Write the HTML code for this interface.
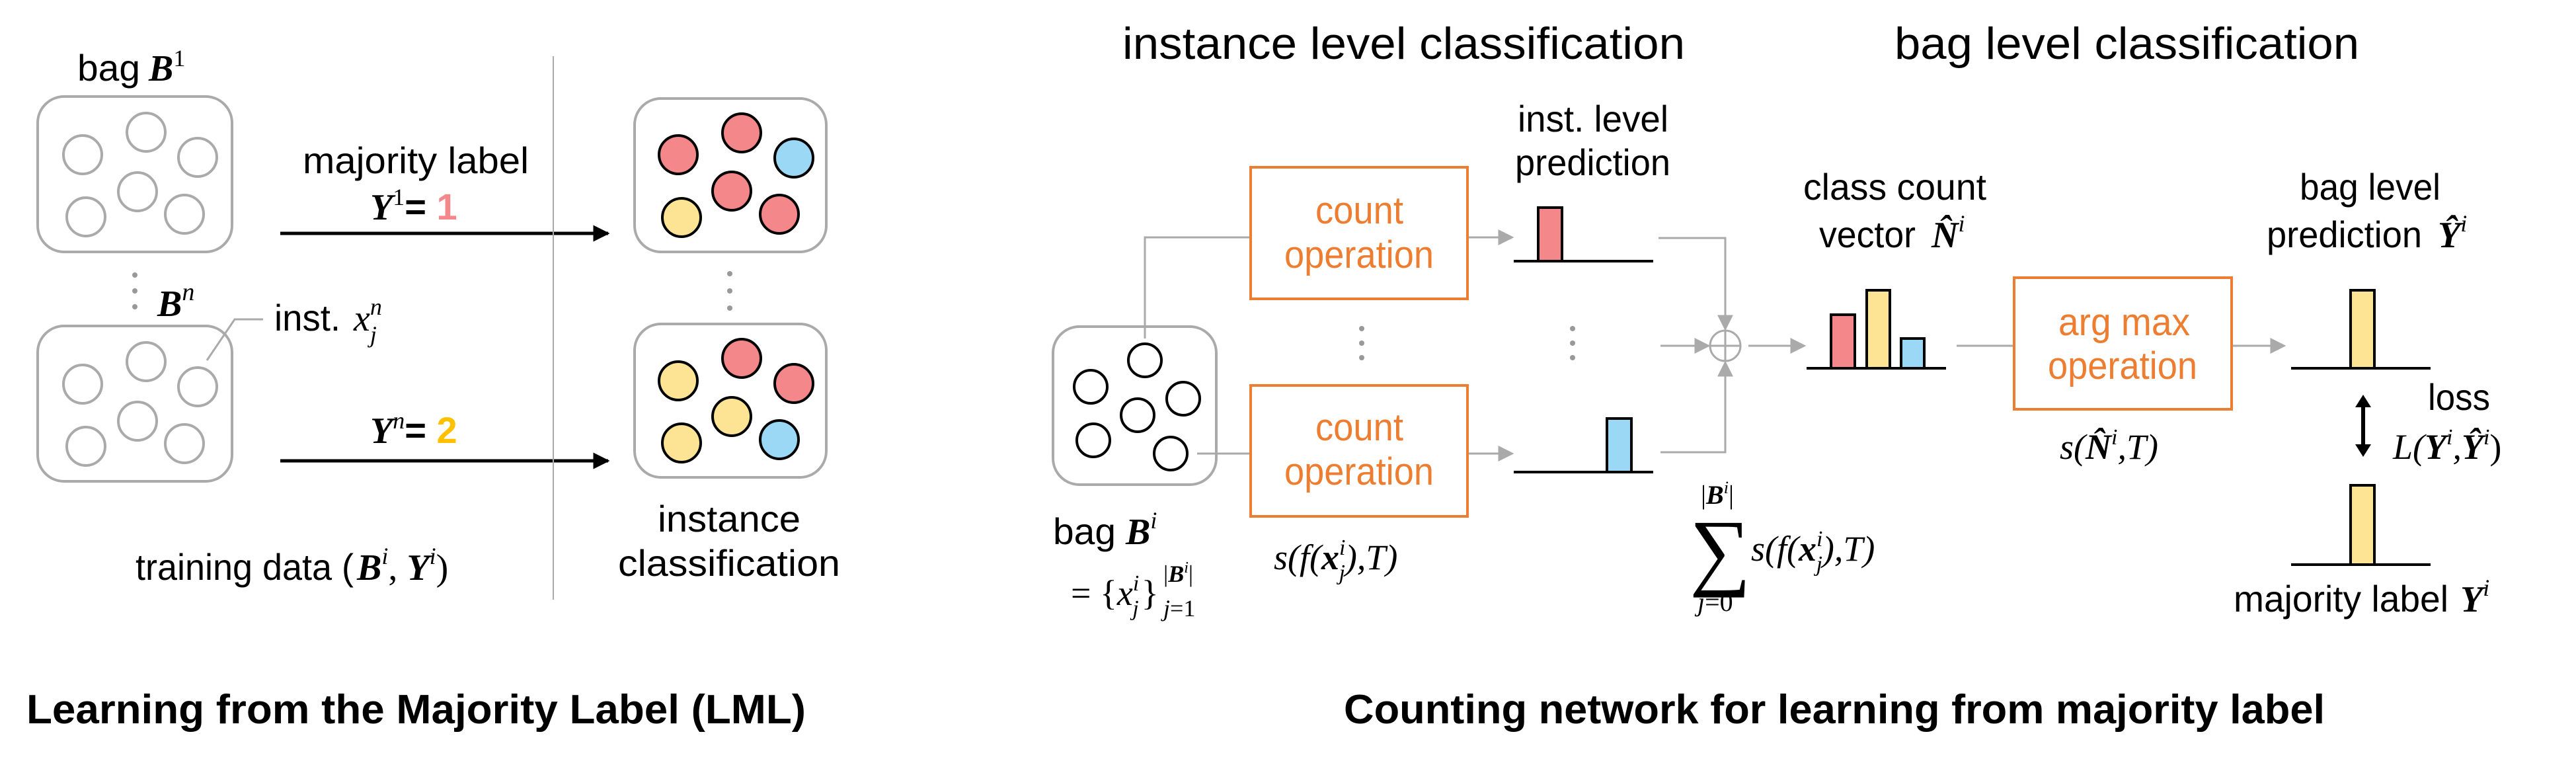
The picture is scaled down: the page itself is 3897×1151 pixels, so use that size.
<!DOCTYPE html>
<html><head><meta charset="utf-8"><style>
html,body{margin:0;padding:0;background:#fff;}
svg{display:block;}
.s{font-family:"Liberation Sans",sans-serif;}
.m{font-family:"Liberation Serif",serif;font-style:italic;}
</style></head><body>
<svg width="3897" height="1151" viewBox="0 0 3897 1151" xmlns="http://www.w3.org/2000/svg">
<defs>
<marker id="ab" viewBox="0 0 10 10" refX="9" refY="5" markerWidth="5" markerHeight="5" orient="auto" markerUnits="strokeWidth"><path d="M0,0 L10,5 L0,10z" fill="#000"/></marker>
<marker id="ag" viewBox="0 0 10 10" refX="9" refY="5" markerWidth="8" markerHeight="8" orient="auto" markerUnits="strokeWidth"><path d="M0,0 L10,5 L0,10z" fill="#aaa"/></marker>
<g id="ebag">
<rect x="0" y="0" width="294" height="235" rx="40" fill="#fff" stroke="#aaa" stroke-width="4"/>
<g fill="none" stroke="#aaa" stroke-width="4">
<circle cx="68" cy="88" r="29"/><circle cx="164" cy="54" r="29"/><circle cx="242" cy="92" r="29"/>
<circle cx="151" cy="144" r="29"/><circle cx="73" cy="182" r="29"/><circle cx="222" cy="178" r="29"/>
</g></g>
</defs>

<!-- LEFT PANEL -->
<text x="117" y="122" class="s" font-size="56" textLength="95" lengthAdjust="spacingAndGlyphs">bag</text>
<text x="225" y="122" class="m" font-size="56" font-weight="bold">B<tspan font-family="Liberation Serif" font-style="normal" font-weight="normal" font-size="36" dy="-22">1</tspan></text>
<use href="#ebag" x="57" y="146"/>
<use href="#ebag" x="57" y="493"/>
<g fill="#999"><circle cx="204" cy="416" r="4"/><circle cx="204" cy="440" r="4"/><circle cx="204" cy="464" r="4"/></g>
<text x="238" y="478" class="m" font-weight="bold" font-size="56">B<tspan font-size="38" dy="-24" font-weight="normal">n</tspan></text>
<polyline points="398,483 355,483 313,545" fill="none" stroke="#aaa" stroke-width="3"/>
<text x="415" y="500" class="s" font-size="56" textLength="100" lengthAdjust="spacingAndGlyphs">inst.</text>
<text x="535" y="500" class="m" font-size="56">x<tspan font-size="36" dy="-24">n</tspan><tspan font-size="36" dx="-18" dy="42">j</tspan></text>
<text x="458" y="262" class="s" font-size="56" textLength="342" lengthAdjust="spacingAndGlyphs">majority label</text>
<text x="560" y="332" font-size="56"><tspan class="m" font-weight="bold">Y</tspan><tspan font-family="Liberation Serif" font-size="36" dy="-22">1</tspan><tspan class="s" font-weight="bold" dy="22">= </tspan><tspan class="s" font-weight="bold" fill="#f4878a">1</tspan></text>
<line x1="424" y1="353" x2="920" y2="353" stroke="#000" stroke-width="5" marker-end="url(#ab)"/>
<text x="560" y="670" font-size="56"><tspan class="m" font-weight="bold">Y</tspan><tspan class="m" font-size="36" dy="-22">n</tspan><tspan class="s" font-weight="bold" dy="22">= </tspan><tspan class="s" font-weight="bold" fill="#ffc000">2</tspan></text>
<line x1="424" y1="697" x2="920" y2="697" stroke="#000" stroke-width="5" marker-end="url(#ab)"/>
<line x1="837" y1="85" x2="837" y2="907" stroke="#aaa" stroke-width="2"/>

<rect x="960" y="149" width="290" height="232" rx="40" fill="#fff" stroke="#aaa" stroke-width="4"/>
<g stroke="#000" stroke-width="4">
<circle cx="1026" cy="234" r="29" fill="#f4878a"/><circle cx="1122" cy="201" r="29" fill="#f4878a"/><circle cx="1201" cy="239" r="29" fill="#9ad8f5"/>
<circle cx="1107" cy="289" r="29" fill="#f4878a"/><circle cx="1031" cy="329" r="29" fill="#fde394"/><circle cx="1179" cy="324" r="29" fill="#f4878a"/>
</g>
<g fill="#999"><circle cx="1104" cy="414" r="4"/><circle cx="1104" cy="440" r="4"/><circle cx="1104" cy="466" r="4"/></g>
<rect x="960" y="490" width="290" height="232" rx="40" fill="#fff" stroke="#aaa" stroke-width="4"/>
<g stroke="#000" stroke-width="4">
<circle cx="1026" cy="576" r="29" fill="#fde394"/><circle cx="1122" cy="542" r="29" fill="#f4878a"/><circle cx="1201" cy="580" r="29" fill="#f4878a"/>
<circle cx="1107" cy="630" r="29" fill="#fde394"/><circle cx="1031" cy="670" r="29" fill="#fde394"/><circle cx="1179" cy="665" r="29" fill="#9ad8f5"/>
</g>
<text x="995" y="804" class="s" font-size="56" textLength="216" lengthAdjust="spacingAndGlyphs">instance</text>
<text x="935" y="871" class="s" font-size="56" textLength="336" lengthAdjust="spacingAndGlyphs">classification</text>
<text x="205" y="877" class="s" font-size="56" textLength="330" lengthAdjust="spacingAndGlyphs">training data (</text>
<text x="540" y="877" class="m" font-size="56"><tspan font-weight="bold">B</tspan><tspan font-size="36" dy="-24">i</tspan><tspan dy="24" font-style="normal">, </tspan><tspan font-weight="bold">Y</tspan><tspan font-size="36" dy="-24">i</tspan><tspan dy="24" font-style="normal">)</tspan></text>
<text x="40" y="1094" class="s" font-size="62" font-weight="bold" textLength="1179" lengthAdjust="spacingAndGlyphs">Learning from the Majority Label (LML)</text>

<!-- RIGHT PANEL -->
<text x="1698" y="89" class="s" font-size="68" textLength="851" lengthAdjust="spacingAndGlyphs">instance level classification</text>
<text x="2866" y="89" class="s" font-size="68" textLength="703" lengthAdjust="spacingAndGlyphs">bag level classification</text>

<rect x="1593" y="494" width="247" height="239" rx="40" fill="#fff" stroke="#aaa" stroke-width="4"/>
<g fill="#fff" stroke="#000" stroke-width="4">
<circle cx="1650" cy="585" r="25"/><circle cx="1732" cy="545" r="25"/><circle cx="1790" cy="603" r="25"/>
<circle cx="1721" cy="628" r="25"/><circle cx="1654" cy="666" r="25"/><circle cx="1771" cy="686" r="25"/>
</g>
<g fill="none" stroke="#aaa" stroke-width="3">
<polyline points="1732,512 1732,359 1892,359"/>
<line x1="1811" y1="686" x2="1892" y2="686"/>
<line x1="2220" y1="359" x2="2288" y2="359" marker-end="url(#ag)"/>
<line x1="2220" y1="686" x2="2288" y2="686" marker-end="url(#ag)"/>
<polyline points="2509,360 2610,360 2610,498" marker-end="url(#ag)"/>
<polyline points="2512,684 2610,684 2610,548" marker-end="url(#ag)"/>
<line x1="2512" y1="523" x2="2585" y2="523" marker-end="url(#ag)"/>
<line x1="2645" y1="523" x2="2730" y2="523" marker-end="url(#ag)"/>
<circle cx="2610" cy="523" r="23"/>
<line x1="2587" y1="523" x2="2633" y2="523"/><line x1="2610" y1="500" x2="2610" y2="546"/>
<line x1="2960" y1="523" x2="3047" y2="523"/>
<line x1="3376" y1="523" x2="3456" y2="523" marker-end="url(#ag)"/>
</g>
<g fill="#fff" stroke="#ed7d31" stroke-width="4">
<rect x="1892" y="253" width="328" height="199"/>
<rect x="1892" y="583" width="328" height="198"/>
<rect x="3047" y="420" width="329" height="199"/>
</g>
<g class="s" font-size="58" fill="#ed7d31">
<text x="1990" y="338" textLength="133" lengthAdjust="spacingAndGlyphs">count</text><text x="1943" y="405" textLength="226" lengthAdjust="spacingAndGlyphs">operation</text>
<text x="1990" y="666" textLength="133" lengthAdjust="spacingAndGlyphs">count</text><text x="1943" y="733" textLength="226" lengthAdjust="spacingAndGlyphs">operation</text>
<text x="3114" y="507" textLength="199" lengthAdjust="spacingAndGlyphs">arg max</text><text x="3098" y="573" textLength="226" lengthAdjust="spacingAndGlyphs">operation</text>
</g>
<g fill="#999"><circle cx="2060" cy="497" r="4"/><circle cx="2060" cy="519" r="4"/><circle cx="2060" cy="541" r="4"/>
<circle cx="2379" cy="497" r="4"/><circle cx="2379" cy="519" r="4"/><circle cx="2379" cy="541" r="4"/></g>

<g stroke="#000" stroke-width="4">
<rect x="2327" y="314" width="36" height="81" fill="#f4878a"/>
<line x1="2290" y1="395" x2="2501" y2="395"/>
<rect x="2431" y="633" width="37" height="81" fill="#9ad8f5"/>
<line x1="2290" y1="714" x2="2501" y2="714"/>
<rect x="2770" y="476" width="36" height="81" fill="#f4878a"/>
<rect x="2824" y="439" width="35" height="118" fill="#fde394"/>
<rect x="2876" y="512" width="35" height="45" fill="#9ad8f5"/>
<line x1="2733" y1="557" x2="2944" y2="557"/>
<rect x="3556" y="439" width="36" height="118" fill="#fde394"/>
<line x1="3466" y1="557" x2="3677" y2="557"/>
<rect x="3556" y="734" width="36" height="120" fill="#fde394"/>
<line x1="3466" y1="854" x2="3677" y2="854"/>
</g>
<line x1="3575" y1="612" x2="3575" y2="676" stroke="#000" stroke-width="6"/>
<path d="M3575,597 L3563,616 L3587,616z M3575,691 L3563,672 L3587,672z" fill="#000"/>

<g class="s" font-size="56">
<text x="2296" y="199" textLength="228" lengthAdjust="spacingAndGlyphs">inst. level</text>
<text x="2292" y="265" textLength="235" lengthAdjust="spacingAndGlyphs">prediction</text>
<text x="2728" y="302" textLength="277" lengthAdjust="spacingAndGlyphs">class count</text>
<text x="2752" y="374" textLength="146" lengthAdjust="spacingAndGlyphs">vector</text>
<text x="3479" y="302" textLength="213" lengthAdjust="spacingAndGlyphs">bag level</text>
<text x="3429" y="374" textLength="235" lengthAdjust="spacingAndGlyphs">prediction</text>
<text x="3673" y="620" textLength="94" lengthAdjust="spacingAndGlyphs">loss</text>
<text x="3379" y="925" textLength="325" lengthAdjust="spacingAndGlyphs">majority label</text>
<text x="1593" y="823" textLength="95" lengthAdjust="spacingAndGlyphs">bag</text>
</g>
<g class="m" font-size="56" font-weight="bold">
<text x="2922" y="374">N̂<tspan font-size="36" font-weight="normal" dy="-24">i</tspan></text>
<text x="3688" y="374">Ŷ<tspan font-size="36" font-weight="normal" dy="-24">i</tspan></text>
<text x="3722" y="925">Y<tspan font-size="36" font-weight="normal" dy="-24">i</tspan></text>
<text x="1703" y="823">B<tspan font-size="36" font-weight="normal" dy="-24">i</tspan></text>
</g>
<g class="m" font-size="54">
<text x="1620" y="915"><tspan font-style="normal">= {</tspan>x<tspan font-size="34" dy="-22">i</tspan><tspan font-size="34" dx="-10" dy="38">j</tspan><tspan font-style="normal" dx="4" dy="-16">}</tspan></text>
<text x="1760" y="880" font-size="36"><tspan font-style="normal">|</tspan><tspan font-weight="bold">B</tspan><tspan font-size="24" dy="-14">i</tspan><tspan font-style="normal" dy="14">|</tspan></text>
<text x="1760" y="932" font-size="36">j<tspan font-style="normal">=1</tspan></text>
<text x="1927" y="861">s(f(<tspan font-weight="bold">x</tspan><tspan font-size="34" dy="-22">i</tspan><tspan font-size="34" dx="-10" dy="38">j</tspan><tspan dy="-16">),T)</tspan></text>
<text x="2649" y="848">s(f(<tspan font-weight="bold">x</tspan><tspan font-size="34" dy="-22">i</tspan><tspan font-size="34" dx="-10" dy="38">j</tspan><tspan dy="-16">),T)</tspan></text>
<text x="2556" y="876" font-size="130" font-style="normal">∑</text>
<text x="2573" y="762" font-size="40"><tspan font-style="normal">|</tspan><tspan font-weight="bold">B</tspan><tspan font-size="26" dy="-16">i</tspan><tspan font-style="normal" dy="16">|</tspan></text>
<text x="2568" y="924" font-size="40">j<tspan font-style="normal">=0</tspan></text>
<text x="3116" y="694">s(<tspan font-weight="bold">N̂</tspan><tspan font-size="34" dy="-22">i</tspan><tspan dy="22">,T)</tspan></text>
<text x="3620" y="694">L(<tspan font-weight="bold">Y</tspan><tspan font-size="34" dy="-22">i</tspan><tspan dy="22">,</tspan><tspan font-weight="bold">Ŷ</tspan><tspan font-size="34" dy="-22">i</tspan><tspan dy="22" font-style="normal">)</tspan></text>
</g>
<text x="2033" y="1094" class="s" font-size="62" font-weight="bold" textLength="1484" lengthAdjust="spacingAndGlyphs">Counting network for learning from majority label</text>
</svg>
</body></html>
